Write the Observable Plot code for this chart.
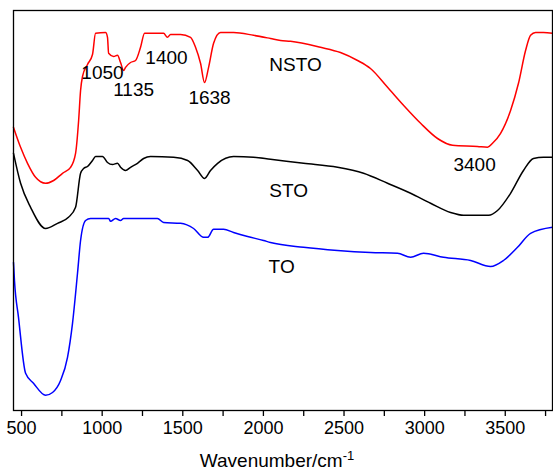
<!DOCTYPE html>
<html>
<head>
<meta charset="utf-8">
<script src="https://cdn.jsdelivr.net/npm/d3@7"></script>
<script src="https://cdn.jsdelivr.net/npm/@observablehq/plot@0.6"></script>
<style>
  html, body { margin: 0; padding: 0; background: #fff; }
</style>
</head>
<body>
<div id="chart"></div>
<script>
// Wavenumber (cm^-1) and transmittance (a.u.)
const nstoWn = [450, 494, 537, 587, 649, 699, 754, 804, 835, 854, 866, 878, 909, 940, 959, 1021, 1033, 1040, 1071, 1095, 1114, 1133, 1145, 1176, 1207, 1238, 1263, 1381, 1405, 1424, 1486, 1548, 1579, 1610, 1635, 1660, 1691, 1734, 1815, 1939, 2044, 2106, 2168, 2354, 2478, 2584, 2664, 2770, 2869, 2975, 3080, 3173, 3328, 3390, 3421, 3471, 3533, 3582, 3626, 3657, 3688, 3737, 3793];
const nstoT  = [70.8, 65.8, 61.8, 58.3, 56.8, 57.5, 59.3, 60.8, 64.3, 72.5, 80.0, 83.5, 86.5, 89.0, 94.3, 94.5, 93.3, 89.3, 88.5, 88.8, 87.0, 85.0, 85.8, 87.0, 87.5, 90.8, 94.3, 94.3, 93.3, 94.0, 94.0, 93.3, 90.8, 86.8, 82.0, 85.8, 91.8, 94.5, 94.5, 93.8, 93.0, 92.5, 92.3, 90.8, 89.5, 87.5, 85.5, 80.8, 76.3, 71.8, 68.0, 66.3, 66.0, 65.8, 66.8, 69.3, 75.0, 81.8, 90.0, 93.8, 94.5, 94.5, 94.3];

const stoWn = [450, 494, 556, 649, 723, 791, 835, 866, 885, 909, 940, 959, 1002, 1033, 1064, 1095, 1114, 1145, 1176, 1219, 1257, 1300, 1443, 1530, 1592, 1635, 1672, 1716, 1815, 1939, 2044, 2249, 2460, 2621, 2770, 2913, 3037, 3161, 3241, 3397, 3452, 3533, 3613, 3675, 3737, 3793];
const stoT  = [64.3, 56.8, 50.8, 45.5, 46.8, 48.3, 50.8, 59.3, 60.5, 61.0, 62.5, 63.5, 63.5, 62.0, 61.5, 61.8, 60.8, 60.0, 60.8, 61.8, 63.0, 63.5, 63.3, 62.5, 60.0, 58.0, 60.0, 61.8, 63.5, 63.3, 62.8, 61.8, 60.8, 59.3, 56.8, 54.3, 51.8, 49.5, 48.8, 48.8, 50.0, 54.3, 60.0, 63.0, 63.3, 63.3];

const toWn = [450, 456, 481, 525, 574, 649, 692, 742, 785, 816, 847, 866, 897, 928, 1040, 1052, 1083, 1114, 1133, 1343, 1381, 1486, 1567, 1629, 1654, 1691, 1753, 1815, 1902, 2001, 2044, 2249, 2460, 2664, 2832, 2913, 2993, 3117, 3285, 3409, 3489, 3576, 3657, 3793];
const toT  = [37.0, 32.5, 23.3, 9.3, 6.8, 3.8, 4.5, 7.5, 13.3, 21.8, 34.3, 42.5, 47.5, 48.0, 48.0, 47.3, 48.0, 47.5, 48.0, 48.0, 47.0, 46.8, 45.5, 43.3, 43.3, 45.3, 45.3, 44.5, 43.5, 42.5, 42.0, 40.8, 40.0, 39.5, 39.3, 38.3, 39.3, 38.3, 37.5, 36.0, 37.5, 40.8, 44.3, 45.8];

// Annotations
const labelText = ["1050", "1135", "1400", "1638", "NSTO", "3400", "STO", "TO"];
const labelWn   = [1002, 1195, 1399, 1666, 2199, 3310, 2156, 2113];
const labelT    = [84.4, 80.1, 88.1, 78.1, 86.3, 61.3, 55.0, 36.0];

const xTicks = d3.range(500, 3751, 250);

const toRows = (wn, t) => wn.map((w, i) => ({wn: w, t: t[i]}));
const nsto = toRows(nstoWn, nstoT);
const sto = toRows(stoWn, stoT);
const to = toRows(toWn, toT);
const labels = labelText.map((s, i) => ({text: s, wn: labelWn[i], t: labelT[i]}));

const fam = "'Liberation Sans', Arial, Helvetica, sans-serif";

const chart = Plot.plot({
  width: 553,
  height: 473,
  marginLeft: 13,
  marginRight: 1,
  marginTop: 10,
  marginBottom: 63,
  style: {fontFamily: fam, fontSize: "18px", background: "#fff", color: "#000"},
  x: {domain: [450, 3793]},
  y: {domain: [0, 100], axis: null},
  marks: [
    Plot.line(nsto, {x: "wn", y: "t", stroke: "#ff0000", strokeWidth: 1.5, curve: "monotone-x"}),
    Plot.line(sto, {x: "wn", y: "t", stroke: "#000000", strokeWidth: 1.5, curve: "monotone-x"}),
    Plot.line(to, {x: "wn", y: "t", stroke: "#0000ff", strokeWidth: 1.5, curve: "monotone-x"}),
    Plot.text(labels, {x: "wn", y: "t", text: "text", fontSize: 19, fill: "#000", textAnchor: "middle"}),
    Plot.axisX({ticks: xTicks, tickSize: 6, tickPadding: 5, tickFormat: d => d % 500 === 0 ? String(d) : "", fontSize: 18, label: null, stroke: "#000", strokeWidth: 1.3}),
    Plot.text(["Wavenumber/cm"], {frameAnchor: "bottom", dx: -6, dy: 56, fontSize: 19, fill: "#000", className: "xtitle"}),
    Plot.frame({stroke: "#000", strokeWidth: 1.3})
  ]
});

document.getElementById("chart").appendChild(chart);

// superscript "-1" on the axis title
d3.select(chart).selectAll("g.xtitle text").each(function() {
  const t = d3.select(this);
  t.append("tspan").attr("dy", "-0.5em").attr("font-size", 13).text("-1");
});
</script>
</body>
</html>
